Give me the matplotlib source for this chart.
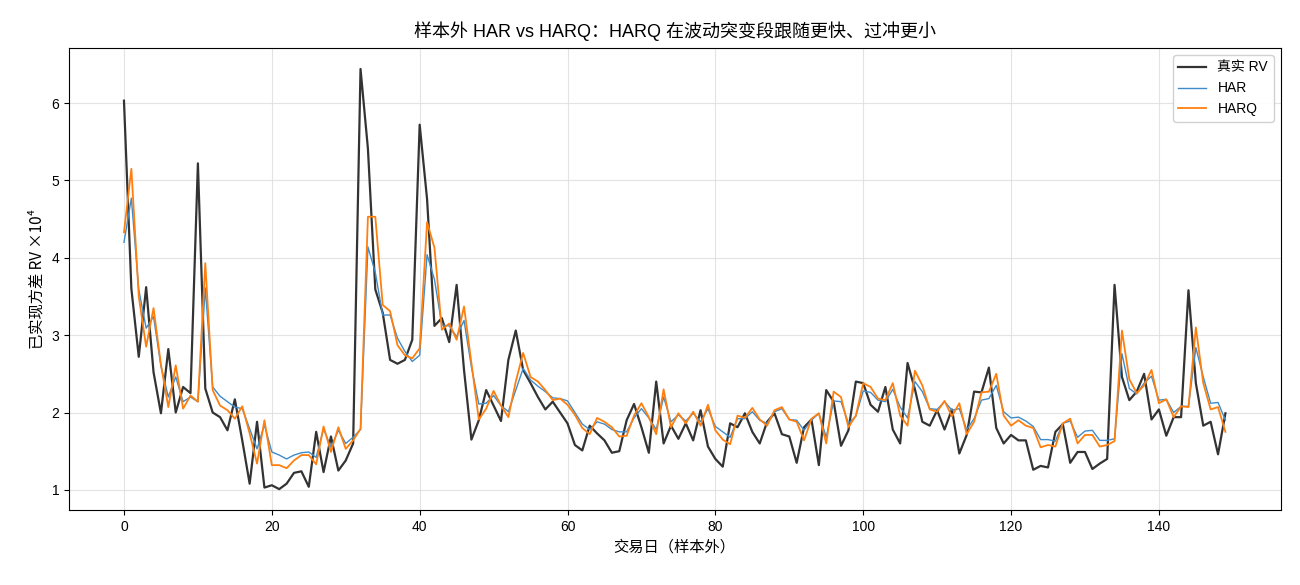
import matplotlib
matplotlib.use("Agg")
import matplotlib.pyplot as plt
import numpy as np

plt.rcParams['font.family'] = ['Liberation Sans', 'Noto Sans CJK SC', 'DejaVu Sans']
plt.rcParams['axes.unicode_minus'] = False

rv_true = [6.03, 3.60, 2.72, 3.62, 2.52, 1.99, 2.82, 2.00, 2.33, 2.25,
           5.22, 2.31, 2.00, 1.94, 1.77, 2.17, 1.64, 1.08, 1.88, 1.03,
           1.06, 1.01, 1.08, 1.22, 1.24, 1.04, 1.75, 1.23, 1.69, 1.25,
           1.38, 1.60, 6.44, 5.41, 3.59, 3.29, 2.68, 2.63, 2.68, 2.94,
           5.72, 4.76, 3.12, 3.22, 2.91, 3.65, 2.55, 1.65, 1.90, 2.29,
           2.09, 1.89, 2.68, 3.06, 2.55, 2.38, 2.20, 2.04, 2.14, 2.00,
           1.86, 1.58, 1.51, 1.83, 1.73, 1.64, 1.48, 1.50, 1.90, 2.11,
           1.81, 1.48, 2.40, 1.60, 1.83, 1.66, 1.86, 1.64, 2.03, 1.56,
           1.40, 1.30, 1.86, 1.81, 1.99, 1.75, 1.60, 1.88, 1.99, 1.72,
           1.69, 1.35, 1.81, 1.91, 1.32, 2.29, 2.14, 1.57, 1.77, 2.40,
           2.38, 2.10, 2.01, 2.33, 1.78, 1.60, 2.64, 2.30, 1.88, 1.83,
           2.03, 1.78, 2.04, 1.47, 1.71, 2.27, 2.26, 2.58, 1.80, 1.60,
           1.71, 1.64, 1.64, 1.26, 1.31, 1.29, 1.75, 1.85, 1.35, 1.49,
           1.49, 1.27, 1.34, 1.40, 3.65, 2.46, 2.16, 2.27, 2.50, 1.91,
           2.04, 1.70, 1.94, 1.94, 3.58, 2.38, 1.83, 1.88, 1.46, 1.99]

har = [4.20, 4.77, 3.59, 3.09, 3.24, 2.60, 2.20, 2.46, 2.14, 2.20,
       2.14, 3.61, 2.33, 2.21, 2.14, 2.07, 2.05, 1.79, 1.53, 1.84,
       1.49, 1.45, 1.40, 1.45, 1.48, 1.49, 1.42, 1.79, 1.55, 1.77,
       1.60, 1.68, 1.78, 4.14, 3.81, 3.26, 3.26, 2.96, 2.79, 2.66,
       2.74, 4.04, 3.72, 3.13, 3.12, 2.98, 3.19, 2.59, 2.11, 2.12,
       2.22, 2.09, 2.01, 2.29, 2.57, 2.42, 2.34, 2.27, 2.19, 2.18,
       2.15, 2.00, 1.85, 1.78, 1.88, 1.85, 1.78, 1.75, 1.75, 1.93,
       2.05, 1.93, 1.78, 2.20, 1.88, 1.97, 1.89, 1.99, 1.88, 2.05,
       1.82, 1.75, 1.68, 1.92, 1.92, 2.01, 1.90, 1.86, 2.01, 2.05,
       1.91, 1.90, 1.77, 1.90, 1.99, 1.68, 2.15, 2.14, 1.86, 1.95,
       2.28, 2.26, 2.16, 2.14, 2.30, 2.07, 1.93, 2.40, 2.27, 2.05,
       2.04, 2.14, 2.03, 2.05, 1.78, 1.92, 2.16, 2.18, 2.35, 2.01,
       1.93, 1.94, 1.89, 1.82, 1.65, 1.65, 1.63, 1.86, 1.89, 1.68,
       1.76, 1.77, 1.64, 1.64, 1.66, 2.76, 2.31, 2.24, 2.38, 2.47,
       2.16, 2.17, 2.00, 2.08, 2.08, 2.84, 2.46, 2.12, 2.13, 1.90]

harq = [4.33, 5.15, 3.50, 2.85, 3.35, 2.62, 2.07, 2.61, 2.05, 2.22,
        2.14, 3.93, 2.29, 2.09, 2.03, 1.92, 2.08, 1.73, 1.34, 1.90,
        1.32, 1.32, 1.28, 1.38, 1.45, 1.45, 1.33, 1.82, 1.49, 1.81,
        1.53, 1.64, 1.79, 4.53, 4.53, 3.39, 3.31, 2.87, 2.74, 2.70,
        2.83, 4.46, 4.13, 3.07, 3.15, 2.94, 3.37, 2.64, 1.91, 2.05,
        2.28, 2.09, 1.94, 2.40, 2.77, 2.46, 2.40, 2.29, 2.16, 2.18,
        2.10, 1.97, 1.80, 1.72, 1.93, 1.88, 1.81, 1.69, 1.70, 1.96,
        2.12, 1.94, 1.72, 2.30, 1.81, 1.99, 1.86, 2.01, 1.83, 2.10,
        1.77, 1.65, 1.59, 1.96, 1.93, 2.06, 1.91, 1.83, 2.03, 2.07,
        1.91, 1.88, 1.64, 1.92, 1.99, 1.60, 2.27, 2.20, 1.81, 1.96,
        2.38, 2.33, 2.18, 2.16, 2.38, 1.96, 1.83, 2.54, 2.35, 2.04,
        2.01, 2.15, 1.95, 2.12, 1.72, 1.88, 2.26, 2.27, 2.50, 1.96,
        1.83, 1.90, 1.83, 1.80, 1.55, 1.58, 1.56, 1.86, 1.92, 1.60,
        1.71, 1.71, 1.56, 1.58, 1.63, 3.06, 2.43, 2.25, 2.35, 2.55,
        2.12, 2.17, 1.94, 2.08, 2.07, 3.10, 2.38, 2.04, 2.07, 1.75]

days = np.arange(len(rv_true))

fig = plt.figure(figsize=(13, 5.85), dpi=100)
ax = fig.add_axes([0.053, 0.128, 0.932, 0.79])

ax.plot(days, rv_true, color='#333333', lw=1.6, label='真实 RV')
ax.plot(days, har, color='#3f8bc9', lw=1.0, label='HAR')
ax.plot(days, harq, color='#ff7f0e', lw=1.3, label='HARQ')

ax.grid(True, color='#dddddd', lw=0.8, alpha=0.8)
ax.set_axisbelow(True)
ax.set_xticks([0, 20, 40, 60, 80, 100, 120, 140])
ax.set_yticks([1, 2, 3, 4, 5, 6])
ax.tick_params(labelsize=10)

ax.set_title('样本外 HAR vs HARQ：HARQ 在波动突变段跟随更快、过冲更小', fontsize=13, pad=8)
ax.set_xlabel('交易日（样本外）', fontsize=11)
ax.set_ylabel('已实现方差 RV ×10⁴', fontsize=11,
              family=['Noto Sans CJK SC', 'DejaVu Sans'])

ax.legend(loc='upper right', fontsize=10, framealpha=0.9)

fig.savefig('out.png', dpi=100)
